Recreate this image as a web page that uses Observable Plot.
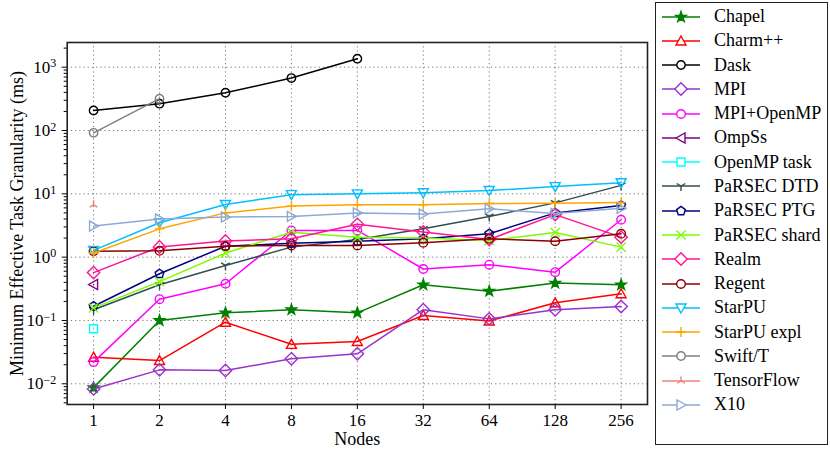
<!DOCTYPE html>
<html><head><meta charset="utf-8">
<script src="https://cdn.jsdelivr.net/npm/d3@7"></script>
<script src="https://cdn.jsdelivr.net/npm/@observablehq/plot@0.6"></script>
<style>
body{margin:0;background:#fff;font-family:"Liberation Serif","Times New Roman",Times,"Nimbus Roman","DejaVu Serif",serif;}
#wrap{position:relative;width:830px;height:449px;overflow:hidden;background:#fff;}
#legend{position:absolute;left:655px;top:2px;width:173px;height:443px;border:1.3px solid #222;box-sizing:border-box;padding-top:1.5px;background:#fff;}
.row{height:24.27px;display:flex;align-items:center;font-size:18px;color:#000;white-space:nowrap;}
.row svg{margin-left:5px;margin-right:13px;flex:none;}
</style></head><body><div id="wrap"></div>
<script>
// ---- data ----
const nodes = [1, 2, 4, 8, 16, 32, 64, 128, 256];
const seriesNames = ["Chapel","Charm++","Dask","MPI","MPI+OpenMP","OmpSs","OpenMP task","PaRSEC DTD","PaRSEC PTG","PaRSEC shard","Realm","Regent","StarPU","StarPU expl","Swift/T","TensorFlow","X10"];
const chapel      = [0.0087, 0.100, 0.132, 0.148, 0.132, 0.366, 0.29, 0.39, 0.366];
const charm       = [0.0263, 0.0233, 0.094, 0.042, 0.0466, 0.12, 0.098, 0.19, 0.264];
const dask        = [207, 265, 395, 673, 1362, null, null, null, null];
const mpi         = [0.0083, 0.0166, 0.0162, 0.0248, 0.0298, 0.148, 0.106, 0.148, 0.166];
const mpiOpenmp   = [0.022, 0.217, 0.38, 2.64, 2.64, 0.65, 0.76, 0.58, 3.9];
const ompss       = [0.37, null, null, null, null, null, null, null, null];
const openmpTask  = [0.074, null, null, null, null, null, null, null, null];
const parsecDtd   = [0.148, 0.366, 0.74, 1.44, 1.9, 2.8, 4.4, 7.2, 13.6];
const parsecPtg   = [0.168, 0.546, 1.49, 1.66, 1.79, 1.95, 2.34, 5.0, 6.56];
const parsecShard = [0.158, 0.41, 1.16, 2.48, 2.07, 2.0, 1.84, 2.45, 1.44];
const realm       = [0.57, 1.45, 1.8, 1.95, 3.3, 2.5, 1.9, 4.7, 2.07];
const regent      = [1.24, 1.26, 1.49, 1.53, 1.53, 1.69, 1.95, 1.78, 2.34];
const starpu      = [1.28, 3.5, 6.8, 9.7, 10.0, 10.4, 11.3, 13.0, 15.0];
const starpuExpl  = [1.16, 2.8, 5.0, 6.4, 6.7, 6.7, 7.05, 7.1, 7.3];
const swiftT      = [92, 318, null, null, null, null, null, null, null];
const tensorflow  = [6.7, null, null, null, null, null, null, null, null];
const x10         = [3.1, 4.0, 4.3, 4.4, 5.0, 4.8, 5.8, 4.9, 5.9];
const seriesValues = [chapel, charm, dask, mpi, mpiOpenmp, ompss, openmpTask, parsecDtd, parsecPtg, parsecShard, realm, regent, starpu, starpuExpl, swiftT, tensorflow, x10];
const yTicks = [1e-2, 1e-1, 1e0, 1e1, 1e2, 1e3];
const yTickExp = ["\u22122", "\u22121", "0", "1", "2", "3"];

// ---- styles ----
const FONT = '"Liberation Serif", "Times New Roman", Times, "Nimbus Roman", "DejaVu Serif", serif';
const colors = ["#008000","#ff0000","#000000","#9932cc","#ff00ff","#800080","#00ffff","#2f4f4f","#000080","#7cfc00","#ff1493","#8b0000","#00bfff","#ffa500","#808080","#f08080","#8eaad4"];
const markerKind = ["star","triUp","circle","diamond","circle","triLeft","square","triDownY","pentagon","x","diamond","circle","triDown","plus","circle","triUpY","triRight"];
const markerR = [5.5,5,4.2,6.2,4.3,5,4,5,4.6,4.6,6.2,4.3,5,5,4.2,4.5,5];

function poly(pts){return {draw(ctx,size){const r=Math.sqrt(size/Math.PI);pts.forEach(([x,y],i)=>i?ctx.lineTo(x*r,y*r):ctx.moveTo(x*r,y*r));ctx.closePath();}};}
function segs(list){return {draw(ctx,size){const r=Math.sqrt(size/Math.PI);for(const [[a,b],[c,d]] of list){ctx.moveTo(a*r,b*r);ctx.lineTo(c*r,d*r);}}};}
const starPts=[];for(let k=0;k<10;k++){const a=-Math.PI/2+k*Math.PI/5;const rr=k%2?0.4:1;starPts.push([rr*Math.cos(a),rr*Math.sin(a)]);}
const pentPts=[];for(let k=0;k<5;k++){const a=-Math.PI/2+k*2*Math.PI/5;pentPts.push([Math.cos(a),Math.sin(a)]);}
const symbols = {
  circle:{draw(ctx,size){const r=Math.sqrt(size/Math.PI);ctx.moveTo(r,0);ctx.arc(0,0,r,0,2*Math.PI);}},
  star:poly(starPts),
  pentagon:poly(pentPts),
  triUp:poly([[0,-1],[1,0.8],[-1,0.8]]),
  triDown:poly([[0,1],[1,-0.8],[-1,-0.8]]),
  triLeft:poly([[-1,0],[0.8,-1],[0.8,1]]),
  triRight:poly([[1,0],[-0.8,-1],[-0.8,1]]),
  diamond:poly([[0,-1],[1,0],[0,1],[-1,0]]),
  square:poly([[-1,-1],[1,-1],[1,1],[-1,1]]),
  x:segs([[[-1,-1],[1,1]],[[-1,1],[1,-1]]]),
  plus:segs([[[-1,0],[1,0]],[[0,-1],[0,1]]]),
  triDownY:segs([[[0,0],[0,1]],[[0,0],[-0.87,-0.5]],[[0,0],[0.87,-0.5]]]),
  triUpY:segs([[[0,0],[0,-1]],[[0,0],[-0.87,0.5]],[[0,0],[0.87,0.5]]])
};
const filled = k => k === "star";
const lineOnly = k => ["x","plus","triDownY","triUpY"].includes(k);

// ---- chart ----
const W = 830, H = 449;
const frameL = 66.7, frameR = 647, frameT = 42, frameB = 404;
const xDomain = [2 ** -0.4, 2 ** 8.4];
const yDomain = [10 ** -2.327, 10 ** 3.39];
const minorTicks = [];
for (let e = -3; e <= 3; e++) for (let m = 2; m <= 9; m++) { const v = m * 10 ** e; if (v >= yDomain[0] && v <= yDomain[1]) minorTicks.push(v); }

const marks = [
  Plot.gridX(nodes, {stroke: "#777", strokeOpacity: 1, strokeWidth: 1, strokeDasharray: "1.2,3"}),
  Plot.gridY(yTicks, {stroke: "#777", strokeOpacity: 1, strokeWidth: 1, strokeDasharray: "1.2,3"})
];
seriesNames.forEach((name, i) => {
  const rows = nodes.map((n, j) => ({x: n, y: seriesValues[i][j]})).filter(d => d.y != null);
  const kind = markerKind[i];
  marks.push(Plot.line(rows, {x: "x", y: "y", stroke: colors[i], strokeWidth: 1.5}));
  marks.push(Plot.dot(rows, {x: "x", y: "y", symbol: symbols[kind], r: markerR[i], stroke: colors[i], strokeWidth: 1.4, fill: filled(kind) ? colors[i] : "none"}));
});
marks.push(
  Plot.frame({stroke: "#222", strokeWidth: 1.6}),
  Plot.axisX(nodes, {tickFormat: d => String(d), tickSize: 5, tickPadding: 4, fontSize: 17, label: "Nodes", labelAnchor: "center", labelArrow: "none", labelOffset: 40}),
  Plot.axisY(yTicks, {tickFormat: (d) => "10^" + yTickExp[yTicks.indexOf(d)], tickSize: 5, tickPadding: 6, fontSize: 17, label: "Minimum Effective Task Granularity (ms)", labelAnchor: "center", labelArrow: "none", labelOffset: 57}),
  Plot.axisY(minorTicks, {tickFormat: () => "", tickSize: 3, label: null})
);

const chart = Plot.plot({
  width: W, height: H,
  marginLeft: frameL, marginRight: W - frameR, marginTop: frameT, marginBottom: H - frameB,
  x: {type: "log", base: 2, domain: xDomain},
  y: {type: "log", domain: yDomain},
  style: {fontFamily: FONT, fontSize: "17px", color: "#000", background: "#fff"},
  marks
});
chart.setAttribute("font-family", FONT);
chart.querySelectorAll("[font-family]").forEach(n => n.setAttribute("font-family", FONT));

// superscript exponents in y tick labels
chart.querySelectorAll('g[aria-label="y-axis tick label"] text').forEach(t => {
  const s = t.textContent;
  if (!s.includes("^")) return;
  const [base, exp] = s.split("^");
  t.textContent = base;
  const ts = document.createElementNS("http://www.w3.org/2000/svg", "tspan");
  ts.setAttribute("dy", "-0.45em");
  ts.setAttribute("font-size", "12px");
  ts.textContent = exp;
  t.appendChild(ts);
});
chart.querySelectorAll('g[aria-label="y-axis label"] text, g[aria-label="x-axis label"] text').forEach(t => t.setAttribute("font-size", "18px"));

const wrap = document.getElementById("wrap");
wrap.appendChild(chart);

// ---- legend ----
const legend = d3.select(wrap).append("div").attr("id", "legend");
seriesNames.forEach((name, i) => {
  const row = legend.append("div").attr("class", "row");
  const svg = row.append("svg").attr("width", 40).attr("height", 20);
  svg.append("line").attr("x1", 1).attr("x2", 39).attr("y1", 10).attr("y2", 10).attr("stroke", colors[i]).attr("stroke-width", 1.5);
  const kind = markerKind[i];
  svg.append("path").attr("transform", "translate(20,10)")
    .attr("d", d3.symbol(symbols[kind], Math.PI * markerR[i] ** 2)())
    .attr("stroke", colors[i]).attr("stroke-width", 1.4)
    .attr("fill", filled(kind) ? colors[i] : (lineOnly(kind) ? "none" : "#fff"));
  row.append("span").text(name);
});
</script></body></html>
